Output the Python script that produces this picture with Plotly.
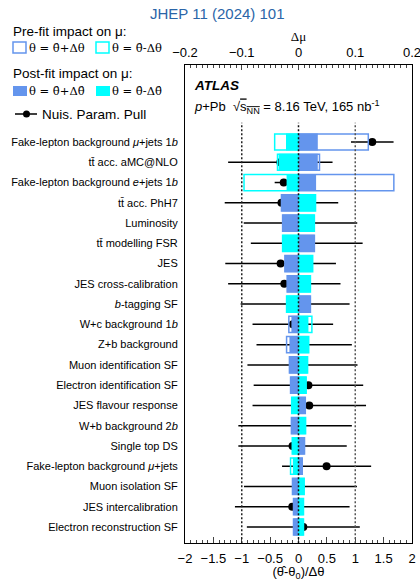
import plotly.graph_objects as go

# Nuisance parameters, ordered from top (largest impact) to bottom
labels = [
    "Fake-lepton background <i>μ</i>+jets 1<i>b</i>",
    "tt\u0304 acc. aMC@NLO",
    "Fake-lepton background <i>e</i>+jets 1<i>b</i>",
    "tt\u0304 acc. PhH7",
    "Luminosity",
    "tt\u0304 modelling FSR",
    "JES",
    "JES cross-calibration",
    "<i>b</i>-tagging SF",
    "W+c background 1<i>b</i>",
    "Z+b background",
    "Muon identification SF",
    "Electron identification SF",
    "JES flavour response",
    "W+b background 2<i>b</i>",
    "Single top DS",
    "Fake-lepton background <i>μ</i>+jets",
    "Muon isolation SF",
    "JES intercalibration",
    "Electron reconstruction SF",
]

# Impact on mu (delta mu)
prefit_up = [0.123, 0.037, 0.168, -0.030, -0.028, 0.028, -0.024, -0.020, 0.021, -0.017,
             -0.021, -0.016, -0.014, 0.012, -0.0125, 0.0106, 0.0066, -0.0106, -0.0088, -0.0088]
prefit_down = [-0.042, -0.037, -0.096, 0.030, 0.028, -0.028, 0.025, 0.021, -0.021, 0.0236,
               0.018, 0.016, 0.0135, -0.012, 0.0125, -0.011, -0.014, 0.010, 0.0088, 0.0088]
postfit_up = [0.034, 0.034, 0.031, -0.030, -0.028, 0.028, -0.024, -0.020, 0.021, -0.0125,
              -0.016, -0.016, -0.014, 0.012, -0.0125, 0.0106, 0.0066, -0.0106, -0.0088, -0.0088]
postfit_down = [-0.022, -0.035, -0.021, 0.030, 0.028, -0.028, 0.025, 0.021, -0.021, 0.0175,
                0.018, 0.016, 0.0135, -0.012, 0.0125, -0.011, -0.010, 0.010, 0.0088, 0.0088]

# Pulls (theta_hat - theta_0)/Delta theta and their post-fit uncertainties
pull = [1.30, -0.32, -0.26, -0.30, 0.035, 0.145, -0.315, -0.25, -0.06, -0.10,
        0.10, 0.07, 0.175, 0.19, -0.06, -0.105, 0.495, 0.035, -0.11, 0.085]
pull_err = [0.375, 0.92, 0.16, 1.0, 1.0, 0.985, 0.975, 0.99, 0.96, 0.71,
            0.84, 0.97, 0.965, 1.0, 1.0, 0.955, 0.785, 0.995, 1.01, 0.995]

pos = list(range(len(labels), 0, -1))

BLUE = "#6495ed"
CYAN = "#00ffff"
FONT = "Liberation Sans"
SERIF = "DejaVu Serif"

# plot-frame edges in pixels, used to place the free-standing legend items
W, H = 420, 581
L, R, T, B = 185, 412, 65, 543


def px(x):
    return (x - L) / (R - L)


def py(y):
    return (B - y) / (B - T)


fig = go.Figure()

# pre-fit impacts: empty boxes
fig.add_trace(go.Bar(y=pos, x=prefit_up, orientation="h", xaxis="x2", width=0.8,
                     marker=dict(color="rgba(0,0,0,0)", line=dict(color=BLUE, width=1.5)),
                     showlegend=False))
fig.add_trace(go.Bar(y=pos, x=prefit_down, orientation="h", xaxis="x2", width=0.8,
                     marker=dict(color="rgba(0,0,0,0)", line=dict(color=CYAN, width=1.5)),
                     showlegend=False))
# post-fit impacts: filled boxes
fig.add_trace(go.Bar(y=pos, x=postfit_up, orientation="h", xaxis="x2", width=0.84,
                     marker=dict(color=BLUE, line=dict(width=0)), showlegend=False))
fig.add_trace(go.Bar(y=pos, x=postfit_down, orientation="h", xaxis="x2", width=0.84,
                     marker=dict(color=CYAN, line=dict(width=0)), showlegend=False))

# dotted guide lines at pull = -1, 0, +1
for xv, col in [(-1, "#222"), (0, "#111"), (1, "#555")]:
    fig.add_shape(type="line", xref="x", yref="y", x0=xv, x1=xv, y0=0.2, y1=20.95,
                  line=dict(color=col, width=1.5, dash="2px,2px"), layer="above")

# pulls
fig.add_trace(go.Scatter(y=pos, x=pull, mode="markers", xaxis="x",
                         marker=dict(color="black", size=8),
                         error_x=dict(type="data", array=pull_err, color="black",
                                      thickness=1.5, width=0),
                         showlegend=False))

fig.update_layout(
    width=W, height=H,
    margin=dict(l=L, r=W - R, t=T, b=H - B, autoexpand=False),
    paper_bgcolor="white", plot_bgcolor="white",
    barmode="overlay",
    font=dict(family=FONT, color="black", size=13),
    xaxis=dict(range=[-2, 2], dtick=0.5, ticks="inside", ticklen=6, tickwidth=1,
               minor=dict(dtick=0.1, ticks="inside", ticklen=3, tickwidth=1),
               showline=True, linecolor="black", linewidth=1, showgrid=False,
               zeroline=False, tickfont=dict(size=13), automargin=False,
               ticklabelstandoff=3, ticklabeloverflow="allow",
               title=dict(text="(θ\u0302-θ<sub>0</sub>)/Δθ", font=dict(size=13), standoff=8)),
    xaxis2=dict(range=[-0.2, 0.2], overlaying="x", side="top", dtick=0.1,
                ticks="inside", ticklen=5, tickwidth=1,
                minor=dict(dtick=0.01, ticks="inside", ticklen=3, tickwidth=1),
                showline=True, linecolor="black", linewidth=1, showgrid=False,
                zeroline=False, tickfont=dict(size=13), automargin=False,
                ticklabelstandoff=2, ticklabeloverflow="allow",
                title=dict(text="Δμ", font=dict(size=13, family="Liberation Serif"), standoff=0)),
    yaxis=dict(range=[0.21, 23.8], tickvals=pos, ticktext=labels, ticks="",
               showline=True, mirror=True, linecolor="black", linewidth=1,
               showgrid=False, zeroline=False, tickfont=dict(size=11),
               ticklabelstandoff=4, automargin=False),
)


def note(text, x, y, size, xanchor="left", family=FONT, color="black"):
    return dict(text=text, x=px(x), y=py(y), xref="paper", yref="paper",
                xanchor=xanchor, yanchor="middle", showarrow=False,
                font=dict(size=size, family=family, color=color))


ann = [
    note("JHEP 11 (2024) 101", 217, 13, 15, xanchor="center", color="#2a65a8"),
    note("<b><i>ATLAS</i></b>", 192, 86, 13.5),
    note("<i>p</i>+Pb  √<span style='text-decoration:overline'>s<sub>NN</sub></span>"
         " = 8.16 TeV, 165 nb<sup>-1</sup>", 192, 107, 13),
    # legend: pre-fit / post-fit impacts and pull marker
    note("Pre-fit impact on μ:", 11, 31, 13.5),
    note("Post-fit impact on μ:", 11, 73, 13.5),
    note("Nuis. Param. Pull", 40, 114, 13.5),
]
for txt, xt, yt in [("θ = θ\u0302+Δθ", 27, 48), ("θ = θ\u0302-Δθ", 110, 48),
                    ("θ = θ\u0302+Δθ\u0302", 27, 91), ("θ = θ\u0302-Δθ\u0302", 110, 91)]:
    ann.append(note(txt, xt, yt, 11.5, family=SERIF))

shapes = []
for x0, col in [(13, BLUE), (96, CYAN)]:
    shapes.append(dict(type="rect", xref="paper", yref="paper", x0=px(x0), x1=px(x0 + 13),
                       y0=py(53), y1=py(42), line=dict(color=col, width=1.5),
                       fillcolor="rgba(0,0,0,0)"))
    shapes.append(dict(type="rect", xref="paper", yref="paper", x0=px(x0), x1=px(x0 + 14),
                       y0=py(96), y1=py(86), line=dict(width=0), fillcolor=col))
shapes.append(dict(type="line", xref="paper", yref="paper", x0=px(15), x1=px(37),
                   y0=py(114), y1=py(114), line=dict(color="black", width=1.5)))
shapes.append(dict(type="circle", xref="paper", yref="paper", x0=px(23), x1=px(30),
                   y0=py(117.5), y1=py(110.5), line=dict(width=0), fillcolor="black"))

fig.update_layout(annotations=ann)
for s in shapes:
    fig.add_shape(**s)

fig.write_html("out.html")
